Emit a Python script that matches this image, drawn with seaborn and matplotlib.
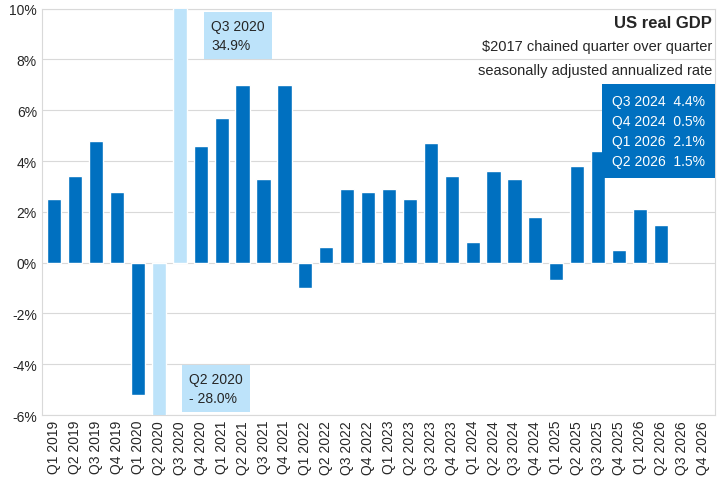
import numpy as np
import pandas as pd
import matplotlib
matplotlib.use("Agg")
import matplotlib.pyplot as plt
import seaborn as sns

quarters = [f"Q{q} {y}" for y in range(2019, 2027) for q in range(1, 5)]
growth = [2.5, 3.4, 4.8, 2.8, -5.2, -28.0, 34.9, 4.6,
          5.7, 7.0, 3.3, 7.0, -1.0, 0.6, 2.9, 2.8,
          2.9, 2.5, 4.7, 3.4, 0.8, 3.6, 3.3, 1.8,
          -0.7, 3.8, 4.4, 0.5, 2.1, 1.5, np.nan, np.nan]
outliers = ["Q2 2020", "Q3 2020"]
box_lines = ["Q3 2024  4.4%", "Q4 2024  0.5%", "Q1 2026  2.1%", "Q2 2026  1.5%"]

df = pd.DataFrame({"quarter": quarters, "growth": growth})
dark, light = "#0070C0", "#BDE3FA"
palette = [light if q in outliers else dark for q in quarters]

sns.set_style("white")
plt.rcParams["font.family"] = ["Liberation Sans", "DejaVu Sans"]

fig = plt.figure(figsize=(7.21, 4.81), dpi=100)
ax = fig.add_axes([0.058, 0.135, 0.934, 0.845])
sns.barplot(data=df, x="quarter", y="growth", hue="quarter", palette=palette,
            legend=False, width=0.68, saturation=1, ax=ax, zorder=3)
ax.set_ylim(-6, 10)
ax.set_xlim(-0.6, len(quarters) - 0.4)
ax.set_yticks(range(-6, 11, 2))
ax.set_yticklabels([f"{v}%" for v in range(-6, 11, 2)], fontsize=10)
ax.tick_params(axis="x", rotation=90, labelsize=10, length=0)
ax.tick_params(axis="y", length=0)
ax.set_xlabel("")
ax.set_ylabel("")
ax.grid(axis="y", color="#D9D9D9", lw=0.8, zorder=0)
for s in ax.spines.values():
    s.set_color("#D9D9D9")

ax.text(7.5, 9.6, "Q3 2020\n34.9%", ha="left", va="top", fontsize=10,
        linespacing=1.5, bbox=dict(fc=light, ec="none", pad=5), zorder=4)
ax.text(6.45, -4.3, "Q2 2020\n- 28.0%", ha="left", va="top", fontsize=10,
        linespacing=1.5, bbox=dict(fc=light, ec="none", pad=5), zorder=4)

ax.text(0.995, 0.985, "US real GDP", transform=ax.transAxes, ha="right",
        va="top", fontsize=12, fontweight="bold")
ax.text(0.995, 0.925, "$2017 chained quarter over quarter", transform=ax.transAxes,
        ha="right", va="top", fontsize=10.5)
ax.text(0.995, 0.865, "seasonally adjusted annualized rate", transform=ax.transAxes,
        ha="right", va="top", fontsize=10.5)
ax.text(0.985, 0.79, "\n".join(box_lines), transform=ax.transAxes, ha="right",
        va="top", fontsize=10, color="white", linespacing=1.55,
        bbox=dict(fc=dark, ec="none", pad=7), zorder=5)

fig.savefig("out.png", dpi=100)
